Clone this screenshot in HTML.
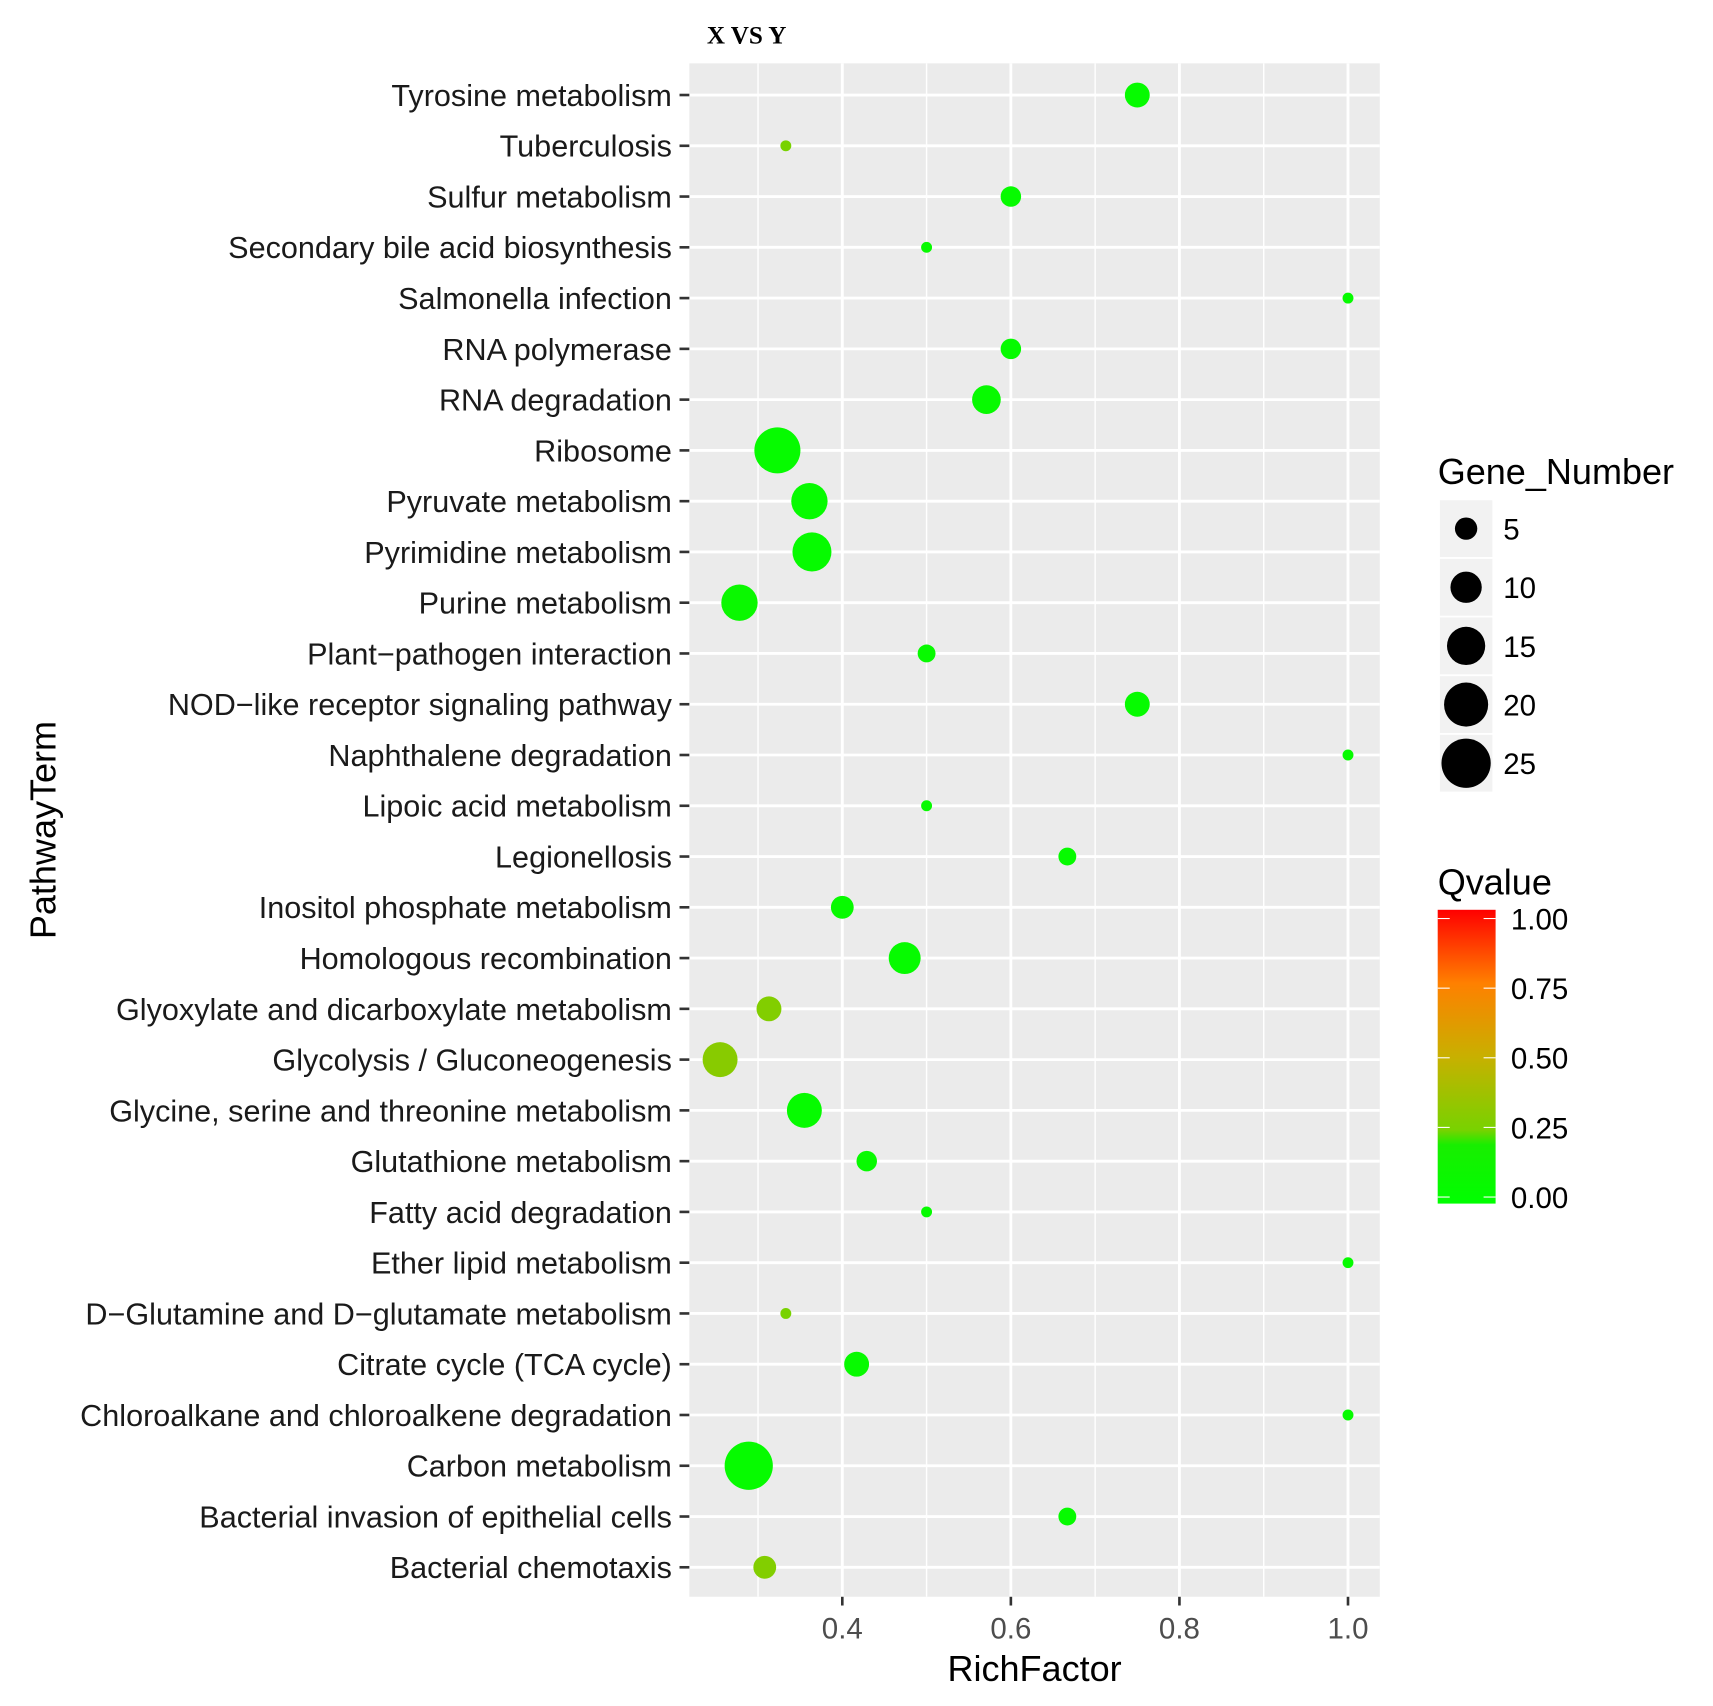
<!DOCTYPE html>
<html><head><meta charset="utf-8"><style>
html,body{margin:0;padding:0;background:#fff;}
svg{display:block;font-family:"Liberation Sans",sans-serif;}
</style></head><body>
<svg id="chart" width="1713" height="1706" viewBox="0 0 1568 1562" preserveAspectRatio="none" xmlns="http://www.w3.org/2000/svg">
<defs>
<linearGradient id="qgrad" x1="0" y1="1" x2="0" y2="0">
<stop offset="0" stop-color="#00ff00"/><stop offset="0.2" stop-color="#18ee00"/>
<stop offset="0.25" stop-color="#78d200"/><stop offset="0.5" stop-color="#c8b000"/>
<stop offset="0.75" stop-color="#ff8000"/><stop offset="1" stop-color="#ff0000"/>
</linearGradient>
</defs>
<text x="647" y="40" font-family="Liberation Serif,serif" font-weight="bold" font-size="23">X VS Y</text>
<rect x="631" y="58" width="632" height="1404" fill="#ebebeb"/>
<g id="grid"></g><g id="dots"></g><g id="yaxis"></g><g id="xaxis"></g>
<text x="947" y="1539" text-anchor="middle" font-size="33">RichFactor</text>
<text transform="translate(51,760) rotate(-90)" text-anchor="middle" font-size="33">PathwayTerm</text>
<text x="1316" y="443" font-size="33">Gene_Number</text>
<g id="sizeleg"></g>
<text x="1316" y="819" font-size="33">Qvalue</text>
<rect x="1316" y="833" width="53" height="269" fill="url(#qgrad)"/>
<g id="colleg"></g>
</svg>
<script>
const pathways=["Tyrosine metabolism","Tuberculosis","Sulfur metabolism","Secondary bile acid biosynthesis","Salmonella infection","RNA polymerase","RNA degradation","Ribosome","Pyruvate metabolism","Pyrimidine metabolism","Purine metabolism","Plant\u2212pathogen interaction","NOD\u2212like receptor signaling pathway","Naphthalene degradation","Lipoic acid metabolism","Legionellosis","Inositol phosphate metabolism","Homologous recombination","Glyoxylate and dicarboxylate metabolism","Glycolysis / Gluconeogenesis","Glycine, serine and threonine metabolism","Glutathione metabolism","Fatty acid degradation","Ether lipid metabolism","D\u2212Glutamine and D\u2212glutamate metabolism","Citrate cycle (TCA cycle)","Chloroalkane and chloroalkene degradation","Carbon metabolism","Bacterial invasion of epithelial cells","Bacterial chemotaxis"];
const richFactor=[0.75,0.333,0.6,0.5,1.0,0.6,0.571,0.323,0.361,0.364,0.278,0.5,0.75,1.0,0.5,0.667,0.4,0.474,0.313,0.255,0.355,0.429,0.5,1.0,0.333,0.417,1.0,0.289,0.667,0.308];
const geneNumber=[6,1,4,1,1,4,8,21,13,15,13,3,6,1,1,3,5,10,6,12,12,4,1,1,1,6,1,23,3,5];
const qvalue=[0.05,0.25,0.05,0.06,0.05,0.05,0.06,0.05,0.05,0.05,0.08,0.06,0.05,0.05,0.06,0.05,0.06,0.05,0.28,0.3,0.05,0.06,0.05,0.05,0.25,0.06,0.05,0.05,0.05,0.28];
const xTicks=[0.4,0.6,0.8,1.0];
const xTickLabels=["0.4","0.6","0.8","1.0"];
const xMinor=[0.3,0.5,0.7,0.9];
const sizeBreaks=[5,10,15,20,25];
const qBreaks=[0,0.25,0.5,0.75,1];
const qLabels=["0.00","0.25","0.50","0.75","1.00"];

const NS="http://www.w3.org/2000/svg";
const X=v=>771+(v-0.4)*771.5;
const Y=i=>87+i*(1435-87)/29;
const R=n=>Math.sqrt(25+21*(n-1));
const QY=q=>1096-q*(1096-841);
function hex(c){return c.map(v=>Math.round(v).toString(16).padStart(2,'0')).join('');}
const stops=[[0,[0,255,0]],[0.2,[24,238,0]],[0.25,[120,210,0]],[0.5,[200,176,0]],[0.75,[255,128,0]],[1,[255,0,0]]];
function qcol(q){for(let i=1;i<stops.length;i++){if(q<=stops[i][0]){const a=stops[i-1],b=stops[i],t=(q-a[0])/(b[0]-a[0]);return '#'+hex(a[1].map((v,k)=>v+(b[1][k]-v)*t));}}return '#ff0000';}
function mk(tag,attrs,parent,txt){const e=document.createElementNS(NS,tag);for(const k in attrs)e.setAttribute(k,attrs[k]);if(txt!==undefined)e.textContent=txt;parent.appendChild(e);return e;}
const grid=document.getElementById('grid'),dots=document.getElementById('dots'),ya=document.getElementById('yaxis'),xa=document.getElementById('xaxis');
xMinor.forEach(v=>{const l=mk('line',{x1:X(v),x2:X(v),y1:58,y2:1462,stroke:'#fff','stroke-width':1.3},grid);

});
xTicks.forEach((v,i)=>{const l=mk('line',{x1:X(v),x2:X(v),y1:58,y2:1462,stroke:'#fff','stroke-width':2.6},grid);


const t=mk('line',{x1:X(v),x2:X(v),y1:1462,y2:1470,stroke:'#333','stroke-width':2.4},xa);


const tx=mk('text',{x:X(v),y:1500,'text-anchor':'middle','font-size':27,fill:'#4d4d4d'},xa,xTickLabels[i]);

});
pathways.forEach((p,i)=>{const y=Y(i);
const l=mk('line',{x1:631,x2:1263,y1:y,y2:y,stroke:'#fff','stroke-width':2.6},grid);


const t=mk('line',{x1:622,x2:631,y1:y,y2:y,stroke:'#333','stroke-width':2.4},ya);


const tx=mk('text',{x:615,y:y+10,'text-anchor':'end','font-size':28,fill:'#1a1a1a'},ya,p);


const c=mk('circle',{cx:X(richFactor[i]),cy:y,r:R(geneNumber[i]),fill:qcol(qvalue[i])},dots);

});
const sl=document.getElementById('sizeleg');
sizeBreaks.forEach((n,i)=>{const cy=484+i*53.7;
const b=mk('rect',{x:1318,y:cy-26,width:48,height:52,fill:'#f2f2f2'},sl);


const c=mk('circle',{cx:1342,cy:cy,r:R(n)*0.98,fill:'#000'},sl);


const t=mk('text',{x:1376,y:cy+10,'font-size':27},sl,String(n));

});
const cl=document.getElementById('colleg');
qBreaks.forEach((q,i)=>{const y=QY(q);
const a=mk('line',{x1:1316,x2:1327,y1:y,y2:y,stroke:'#fff','stroke-width':1},cl);


const b=mk('line',{x1:1358,x2:1369,y1:y,y2:y,stroke:'#fff','stroke-width':1},cl);


const t=mk('text',{x:1383,y:y+10,'font-size':27},cl,qLabels[i]);

});
</script>
</body></html>
